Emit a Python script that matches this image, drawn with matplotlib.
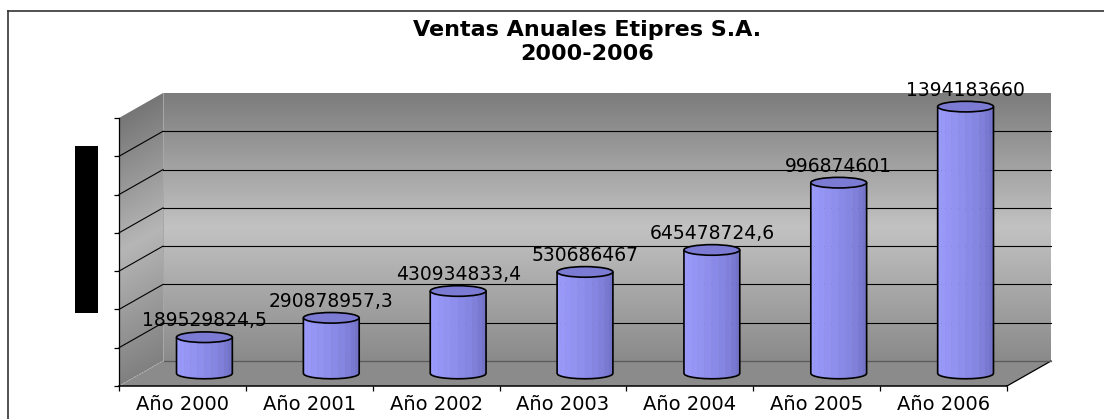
import numpy as np
import matplotlib
matplotlib.use("Agg")
import matplotlib.pyplot as plt
from matplotlib.colors import LinearSegmentedColormap
from matplotlib.patches import Polygon, Ellipse, Rectangle
from matplotlib.lines import Line2D
from matplotlib.transforms import ScaledTranslation, IdentityTransform, Affine2D

plt.rcParams['font.family'] = ['DejaVu Sans']

# datos
titulo = "Ventas Anuales Etipres S.A."
subtitulo = "2000-2006"
anios = ["Año 2000", "Año 2001", "Año 2002", "Año 2003", "Año 2004", "Año 2005", "Año 2006"]
ventas = [189529824.5, 290878957.3, 430934833.4, 530686467, 645478724.6, 996874601, 1394183660]
etiquetas = ["189529824,5", "290878957,3", "430934833,4", "530686467",
             "645478724,6", "996874601", "1394183660"]
y_max = 1.4e9
y_paso = 2e8

W, H = 1104, 419
fig = plt.figure(figsize=(W / 100, H / 100), dpi=100)
ax = fig.add_axes([119 / W, (H - 386) / H, 888 / W, 268 / H])
n = len(anios)
ax.set_xlim(-0.5, n - 0.5)
ax.set_ylim(0, y_max)
ax.axis('off')

# profundidad del grafico 3D (pixeles)
DX, DY = 44, 25
ident = IdentityTransform()


def plano(f):
    return ax.transData + ScaledTranslation(DX * f / 100, DY * f / 100, fig.dpi_scale_trans)


def pt(x, y, f):
    return plano(f).transform((x, y))


def linea(p0, p1, **kw):
    ax.add_line(Line2D([p0[0], p1[0]], [p0[1], p1[1]], transform=ident, clip_on=False, **kw))


ticks = np.arange(0, y_max + 1, y_paso)
x0, x1 = -0.5, n - 0.5

# pared del fondo
grad = np.linspace(0, 1, 256).reshape(-1, 1)
cm_fondo = LinearSegmentedColormap.from_list('fondo', [(0, '#8a8a8a'), (0.5, '#c2c2c2'), (1, '#7c7c7c')])
ax.imshow(grad, cmap=cm_fondo, extent=(x0, x1, 0, y_max), origin='lower', aspect='auto',
          transform=plano(1), interpolation='bilinear', clip_on=False, zorder=0)

# pared lateral
o = pt(x0, 0, 0)
t = pt(x0, y_max, 0)
M = np.array([[DX, t[0] - o[0], o[0]], [DY, t[1] - o[1], o[1]], [0, 0, 1]])
cm_lado = LinearSegmentedColormap.from_list('lado', [(0, '#808080'), (0.5, '#b6b6b6'), (1, '#767676')])
ax.imshow(grad, cmap=cm_lado, extent=(0, 1, 0, 1), origin='lower', aspect='auto',
          transform=Affine2D(M), interpolation='bilinear', clip_on=False, zorder=0)

# piso
piso = [pt(x0, 0, 0), pt(x1, 0, 0), pt(x1, 0, 1), pt(x0, 0, 1)]
ax.add_patch(Polygon(piso, closed=True, transform=ident, fc='#8b8b8b', ec='none', clip_on=False, zorder=1))
linea(pt(x0, 0, 0), pt(x0, 0, 1), color='#b5b5b5', lw=0.8, ls=':', zorder=1.5)
linea(pt(x1, 0, 0), pt(x1, 0, 1), color='black', lw=0.9, zorder=1.5)
linea(pt(x0, 0, 1), pt(x1, 0, 1), color='#5a5a5a', lw=0.9, zorder=1.5)
linea(pt(x0, 0, 1), pt(x0, y_max, 1), color='#a8a8a8', lw=0.7, zorder=1.5)

# lineas de division
for v in ticks[1:-1]:
    ax.plot([x0, x1], [v, v], transform=plano(1), color='black', lw=0.8, clip_on=False, zorder=1.5)
    linea(pt(x0, v, 0), pt(x0, v, 1), color='black', lw=0.8, zorder=1.5)

# ejes
ax.plot([x0, x0], [0, y_max], transform=plano(0), color='black', lw=0.9, clip_on=False, zorder=2)
ax.plot([x0] * len(ticks), ticks, ls='none', marker=0, ms=3.6, mew=0.9, color='black',
        transform=plano(0), clip_on=False, zorder=2)
ax.plot([x0, x1], [0, 0], transform=plano(0), color='black', lw=1.1, clip_on=False, zorder=2)
ax.plot(np.arange(x0, x1 + 0.1, 1), [0] * (n + 1), ls='none', marker=3, ms=3.6, mew=0.9,
        color='black', transform=plano(0), clip_on=False, zorder=2)

# cilindros
ancho = 0.44
ry = 5.3
n_caras = 12
ang = np.linspace(np.pi, 0, n_caras + 1)
cm_barra = LinearSegmentedColormap.from_list('barra', ['#9d9dff', '#9393f3', '#8484e0', '#6d6dc2'])
colores = [cm_barra(k / (n_caras - 1)) for k in range(n_caras)]
for i, v in enumerate(ventas):
    cx, yb = pt(i, 0, 0.5)
    yt = pt(i, v, 0.5)[1]
    rx = pt(i + ancho / 2, 0, 0.5)[0] - cx
    xs = cx + rx * np.cos(ang)
    dy = ry * np.sin(ang)
    for k in range(n_caras):
        cara = [(xs[k], yt - dy[k]), (xs[k], yb - dy[k]), (xs[k + 1], yb - dy[k + 1]), (xs[k + 1], yt - dy[k + 1])]
        ax.add_patch(Polygon(cara, closed=True, transform=ident, fc=colores[k], ec=colores[k],
                             lw=0.3, clip_on=False, zorder=3))
    borde = [(xs[0], yt)] + list(zip(xs, yb - dy)) + [(xs[-1], yt)]
    ax.add_patch(Polygon(borde, closed=False, fill=False, ec='black', lw=1.2, transform=ident,
                         clip_on=False, zorder=4))
    ax.add_patch(Ellipse((cx, yt), 2 * rx, 2 * ry, transform=ident, fc='#7b7bd3', ec='black',
                         lw=1.2, clip_on=False, zorder=4))
    ax.annotate(etiquetas[i], (i, v), xycoords=plano(0.5), xytext=(0, 7.9), textcoords='offset points',
                ha='center', va='baseline', fontsize=13.5, color='black', zorder=5, annotation_clip=False)

# categorias
for i, a in enumerate(anios):
    ax.annotate(a, (i, 0), xycoords=plano(0), xytext=(0, -17.3), textcoords='offset points',
                ha='center', va='baseline', fontsize=14, color='black', annotation_clip=False)

# titulo
fig.text(587 / W, 1 - 36.5 / H, titulo, ha='center', va='baseline', fontsize=16, fontweight='bold')
fig.text(587 / W, 1 - 60 / H, subtitulo, ha='center', va='baseline', fontsize=16, fontweight='bold')

# rectangulo negro del eje vertical
fig.add_artist(Rectangle((75 / W, 1 - 313 / H), 23 / W, 167 / H, transform=fig.transFigure,
                         fc='black', ec='none'))

# borde del area del grafico
fig.add_artist(Line2D([8 / W, 1], [1 - 11 / H, 1 - 11 / H], transform=fig.transFigure, color='#333333', lw=1.2))
fig.add_artist(Line2D([8 / W, 8 / W], [0, 1 - 11 / H], transform=fig.transFigure, color='#333333', lw=1.2))

fig.savefig('out.png', dpi=100)
